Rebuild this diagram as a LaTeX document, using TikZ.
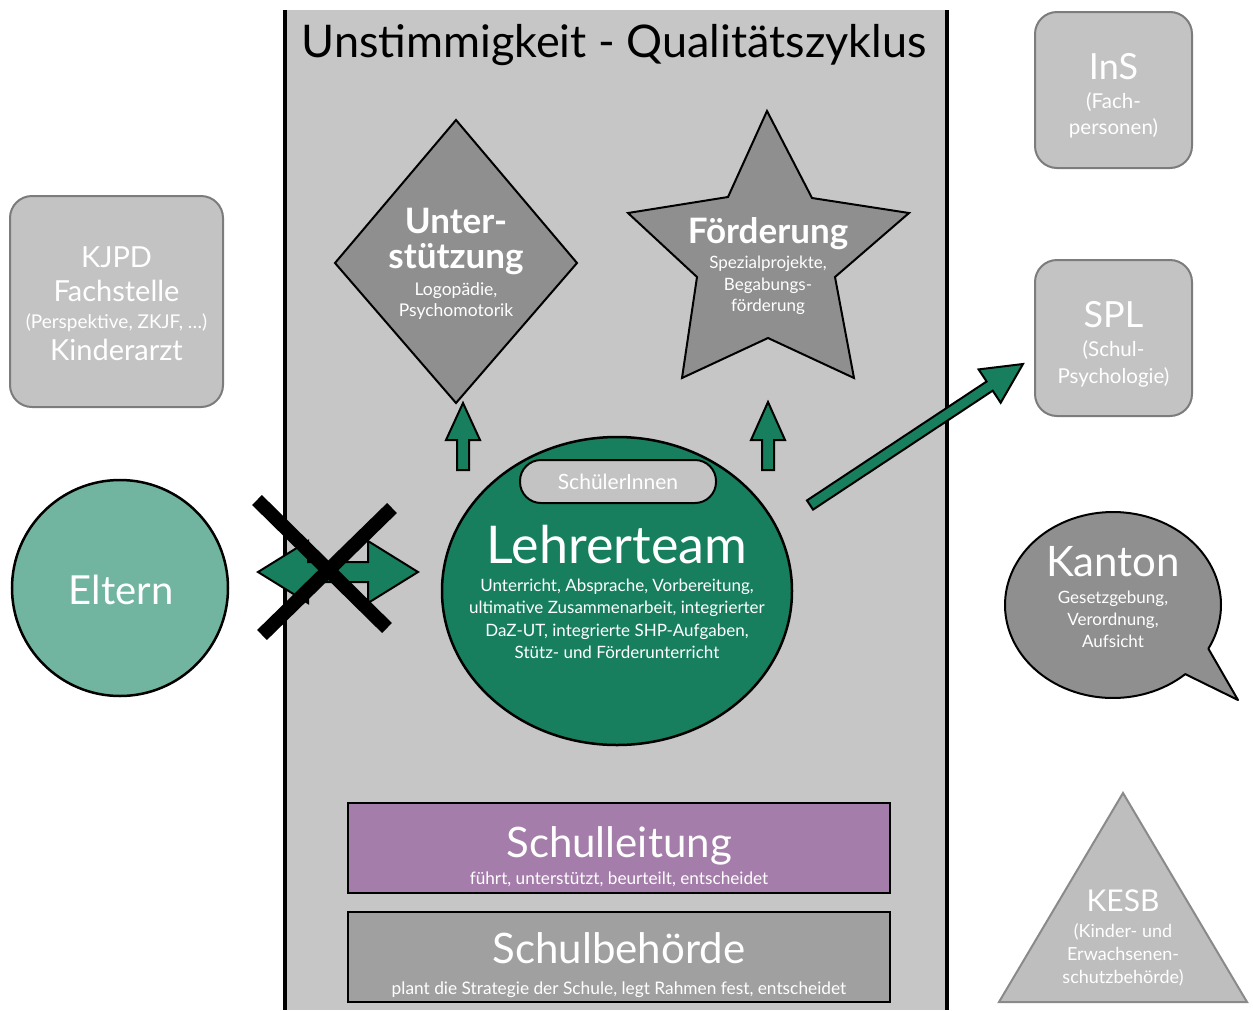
\documentclass[tikz,border=0pt]{standalone}
\usepackage{fontspec}
\setmainfont{Lato}
\usetikzlibrary{calc}
\definecolor{panel}{HTML}{C6C6C6}
\definecolor{boxfill}{HTML}{C3C3C3}
\definecolor{boxline}{HTML}{7C7C7C}
\definecolor{shapefill}{HTML}{8F8F8F}
\definecolor{teamgreen}{HTML}{177F5E}
\definecolor{parentgreen}{HTML}{71B49F}
\definecolor{leadpurple}{HTML}{A57DAA}
\definecolor{boardgray}{HTML}{A0A0A0}
\definecolor{kesbfill}{HTML}{BEBEBE}
\definecolor{kesbline}{HTML}{8A8A8A}
\newcommand\fsz[1]{\fontsize{#1}{#1}\selectfont}
\begin{document}
\begin{tikzpicture}[x=1pt,y=-1pt,
  txt/.style={text=white, inner sep=0pt, anchor=base},
  sidebox/.style={fill=boxfill, draw=boxline, line width=2pt, rounded corners=22pt},
  grayshape/.style={fill=shapefill, draw=black, line width=2pt, line join=miter},
  greenarrow/.style={fill=teamgreen, draw=black, line width=2pt, line join=miter},
  barbox/.style={draw=black, line width=2.5pt},
  cross/.style={line width=14pt, black}]
\useasboundingbox (0,0) rectangle (1253,1010);
\fill[white] (0,0) rectangle (1253,1010);

% central panel of the quality cycle
\fill[panel] (285,10) rectangle (947,1010);
\draw[line width=3.5pt] (285,10) -- (285,1010) (947,10) -- (947,1010);
\node[inner sep=0pt, anchor=base, font=\fsz{45}] (title) at (614,57) {Unstimmigkeit - Qualitätszyklus};

% Unterstuetzung (diamond)
\draw[grayshape] (456,120) -- (577,263) -- (456,403) -- (335,263) -- cycle;
\node[txt, font=\bfseries\fsz{35}] (unter1) at (456,233) {Unter-};
\node[txt, font=\bfseries\fsz{35}] (unter2) at (456,268) {stützung};
\node[txt, font=\fsz{17.5}] (unter3) at (456,295) {Logopädie,};
\node[txt, font=\fsz{17.5}] (unter4) at (456,316) {Psychomotorik};

% Foerderung (star)
\draw[grayshape] (767,111) -- (812,198) -- (909,213) -- (835,277) -- (854,378)
  -- (768,338) -- (682,378) -- (697,277) -- (628,213) -- (728,197) -- cycle;
\node[txt, font=\bfseries\fsz{35}] (foerd1) at (768,243) {Förderung};
\node[txt, font=\fsz{17}] (foerd2) at (768,268) {Spezialprojekte,};
\node[txt, font=\fsz{17}] (foerd3) at (768,290) {Begabungs-};
\node[txt, font=\fsz{17}] (foerd4) at (768,311) {förderung};

% arrows from the team up to the two offers
\draw[greenarrow] (457,470) -- (457,440) -- (446,440) -- (463,403) -- (480,440) -- (469,440) -- (469,470) -- cycle;
\draw[greenarrow] (762,470) -- (762,440) -- (751,440) -- (768,402) -- (785,440) -- (774,440) -- (774,470) -- cycle;

% Lehrerteam
\fill[teamgreen, draw=black, line width=2.5pt] (617,591) ellipse [x radius=175pt, y radius=154pt];
\node[fill=boxfill, draw=black, line width=2pt, rounded corners=21pt, minimum width=196pt, minimum height=43pt, inner sep=0pt] (pupils) at (618,481.5) {};
\node[txt, font=\fsz{21}] (pupilstxt) at (618,489) {SchülerInnen};
\node[txt, font=\fsz{52}] (team) at (617,563) {Lehrerteam};
\node[txt, font=\fsz{17}] (team1) at (617,591) {Unterricht, Absprache, Vorbereitung,};
\node[txt, font=\fsz{17}] (team2) at (617,613) {ultimative Zusammenarbeit, integrierter};
\node[txt, font=\fsz{17}] (team3) at (617,636) {DaZ-UT, integrierte SHP-Aufgaben,};
\node[txt, font=\fsz{17}] (team4) at (617,658) {Stütz- und Förderunterricht};

% Schulleitung and Schulbehoerde
\draw[barbox, fill=leadpurple] (348,803) rectangle (890,893);
\node[txt, font=\fsz{42}] (lead) at (619,857) {Schulleitung};
\node[txt, font=\fsz{17.2}] (leadsub) at (619,884) {führt, unterstützt, beurteilt, entscheidet};
\draw[barbox, fill=boardgray] (348,912) rectangle (890,1002);
\node[txt, font=\fsz{42}] (board) at (619,963) {Schulbehörde};
\node[txt, font=\fsz{17.3}] (boardsub) at (619,994) {plant die Strategie der Schule, legt Rahmen fest, entscheidet};

% Eltern with the crossed double arrow
\fill[parentgreen, draw=black, line width=2.5pt] (120,588) circle [radius=108pt];
\node[txt, font=\fsz{40}] (parents) at (121,604) {Eltern};
\draw[greenarrow] (258,572) -- (308,541) -- (308,562) -- (368,562) -- (368,541) -- (418,572)
  -- (368,603) -- (368,582) -- (308,582) -- (308,603) -- cycle;
\coordinate (xa) at (257,500); \coordinate (xb) at (387,628);
\coordinate (xc) at (262,635); \coordinate (xd) at (392,508);
\draw[cross] (xa) -- (xb);
\draw[cross] (xc) -- (xd);

% KJPD
\node[sidebox, minimum width=213pt, minimum height=211pt] (kjpd) at (116.5,301.5) {};
\node[txt, font=\fsz{29}] (kjpd1) at (116.5,267) {KJPD};
\node[txt, font=\fsz{29}] (kjpd2) at (116.5,301) {Fachstelle};
\node[txt, font=\fsz{19}] (kjpd3) at (116.5,328) {(Perspektive, ZKJF, …)};
\node[txt, font=\fsz{29}] (kjpd4) at (116.5,360) {Kinderarzt};

% InS and SPL
\node[sidebox, minimum width=157pt, minimum height=156pt] (ins) at (1113.5,90) {};
\node[txt, font=\fsz{36}] (ins1) at (1113.5,79) {InS};
\node[txt, font=\fsz{20.5}] (ins2) at (1113.5,108) {(Fach-};
\node[txt, font=\fsz{20.5}] (ins3) at (1113.5,134) {personen)};
\node[sidebox, minimum width=157pt, minimum height=156pt] (spl) at (1113.5,338) {};
\node[txt, font=\fsz{36}] (spl1) at (1113.5,327) {SPL};
\node[txt, font=\fsz{20.5}] (spl2) at (1113.5,356) {(Schul-};
\node[txt, font=\fsz{20.5}] (spl3) at (1113.5,383) {Psychologie)};

% arrow from the team to SPL
\coordinate (sa) at (810,505);
\coordinate (sb) at (1023,364);
\coordinate (sh) at ($(sb)!40pt!(sa)$);
\draw[greenarrow] ($(sa)!5.5pt!90:(sb)$) -- ($(sh)!5.5pt!-90:(sa)$) -- ($(sh)!20pt!-90:(sa)$) -- (sb)
  -- ($(sh)!20pt!90:(sa)$) -- ($(sh)!5.5pt!90:(sa)$) -- ($(sa)!5.5pt!-90:(sb)$) -- cycle;

% Kanton (speech bubble)
\draw[grayshape, line width=2pt, line join=round]
  plot[domain=48:388, samples=120] ({1113+108*cos(\x)},{605+93*sin(\x)}) -- (1238,700) -- cycle;
\node[txt, font=\fsz{42}] (kanton) at (1113,576) {Kanton};
\node[txt, font=\fsz{17}] (kanton1) at (1113,603) {Gesetzgebung,};
\node[txt, font=\fsz{17}] (kanton2) at (1113,625) {Verordnung,};
\node[txt, font=\fsz{17}] (kanton3) at (1113,647) {Aufsicht};

% KESB (triangle)
\draw[fill=kesbfill, draw=kesbline, line width=2pt] (1123,793) -- (1247,1002) -- (999,1002) -- cycle;
\node[txt, font=\fsz{30}] (kesb) at (1123,911) {KESB};
\node[txt, font=\fsz{18}] (kesb1) at (1123,937) {(Kinder- und};
\node[txt, font=\fsz{18}] (kesb2) at (1123,960) {Erwachsenen-};
\node[txt, font=\fsz{18}] (kesb3) at (1123,983) {schutzbehörde)};
\end{tikzpicture}
\end{document}
